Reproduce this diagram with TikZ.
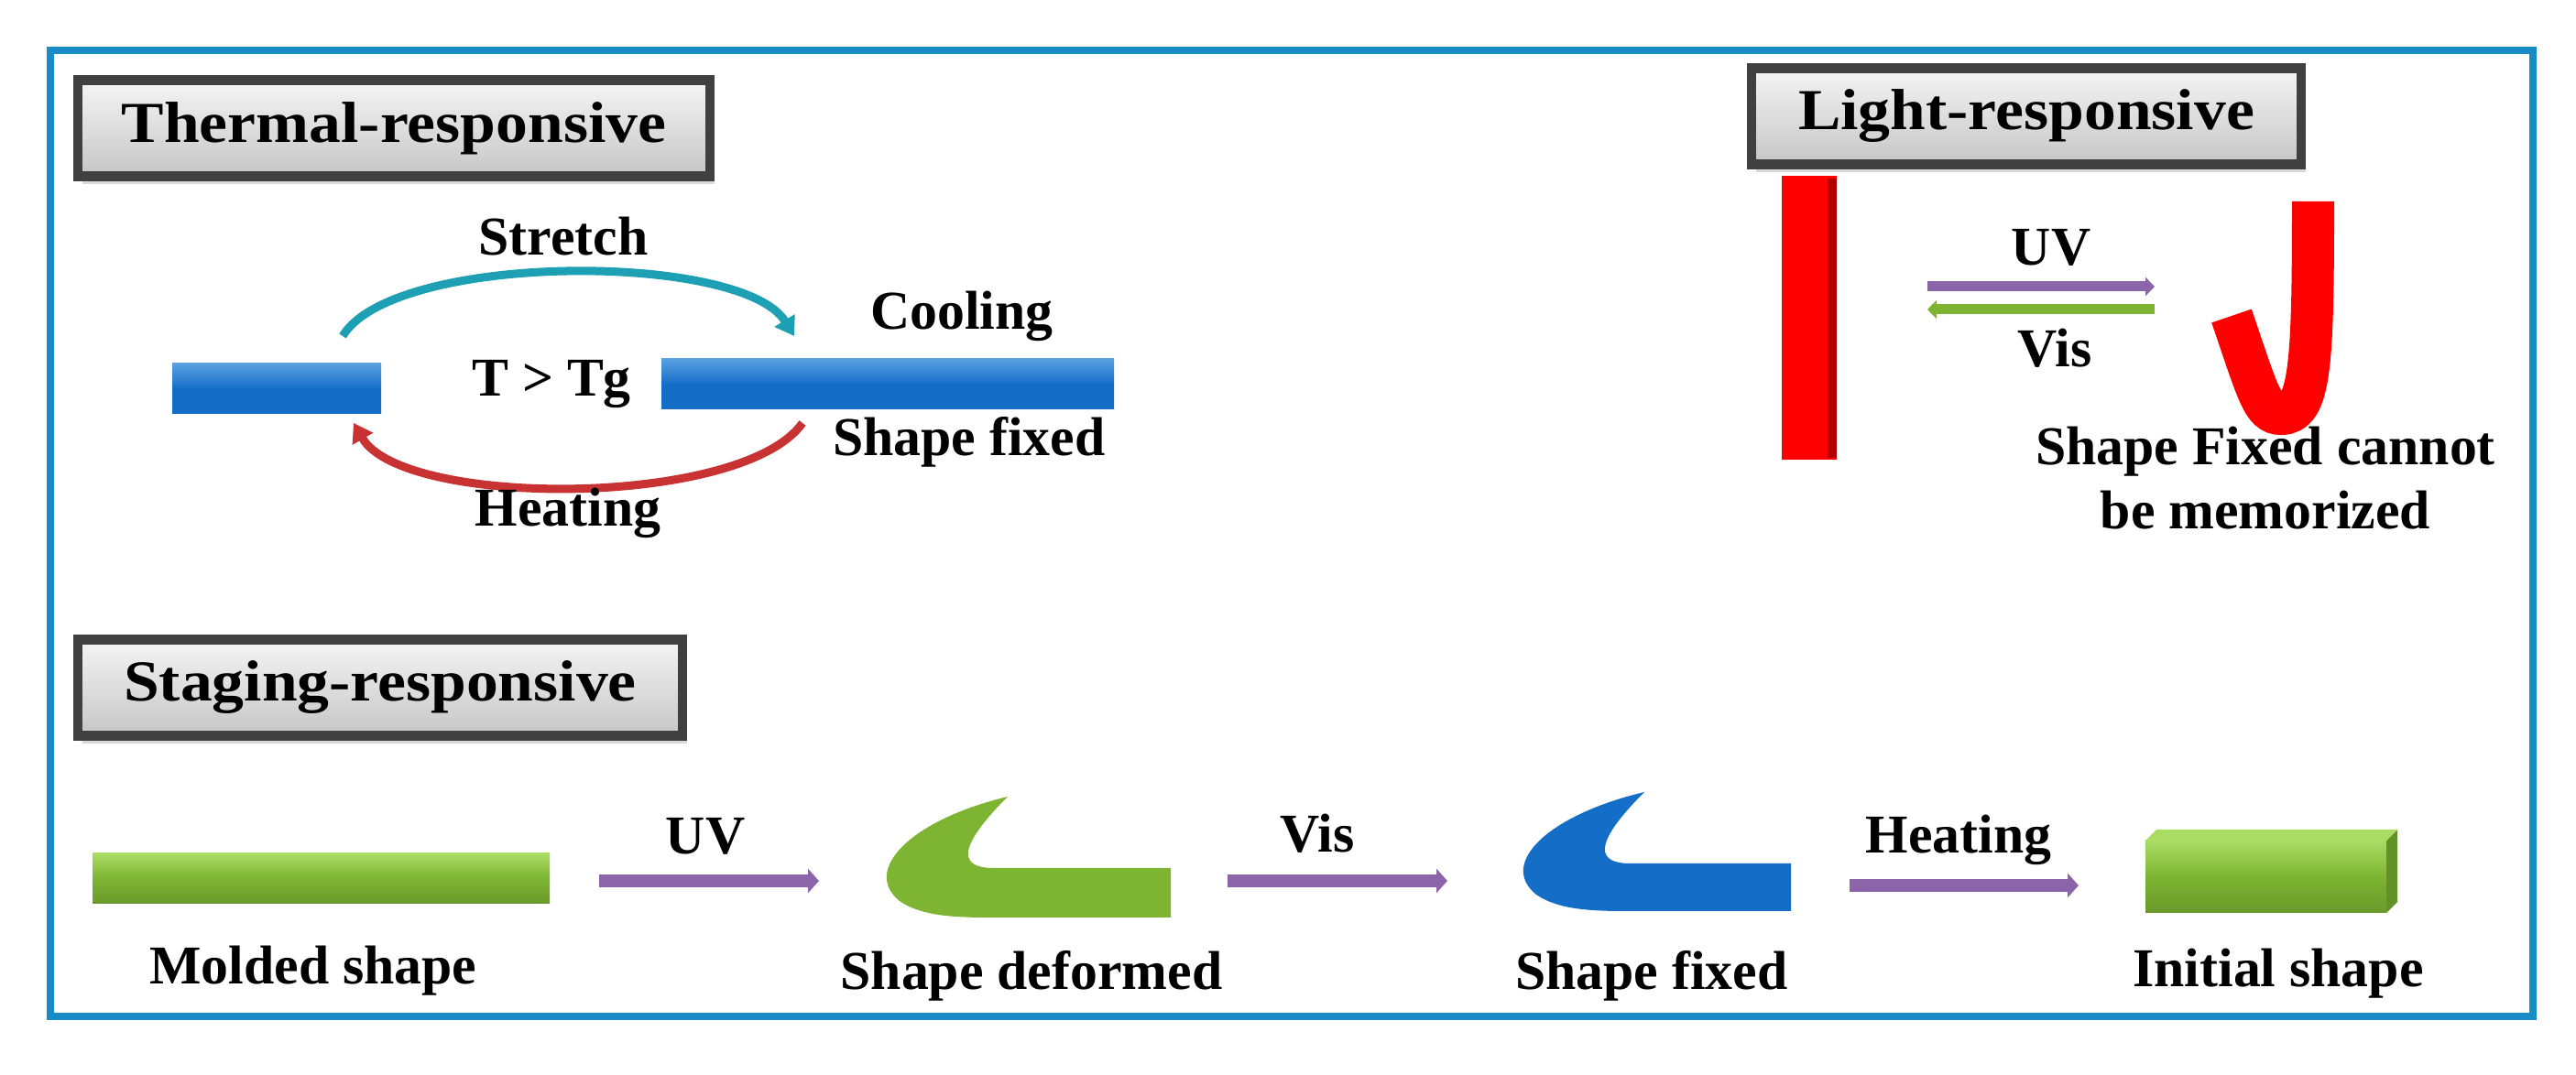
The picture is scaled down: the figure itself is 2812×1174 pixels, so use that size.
\documentclass[tikz,border=0pt]{standalone}
\usepackage{fontspec}
\setmainfont{Liberation Serif}
\newfontfamily\hdrfont{Liberation Serif}[FakeStretch=1.1]
\usetikzlibrary{arrows.meta,shadows}
\definecolor{frameblue}{RGB}{25,140,200}
\definecolor{barblue}{RGB}{20,110,200}
\definecolor{barbluel}{RGB}{90,160,225}
\definecolor{gr}{RGB}{125,180,50}
\definecolor{grl}{RGB}{170,220,100}
\definecolor{purp}{RGB}{140,100,170}
\definecolor{arcc}{RGB}{30,160,180}
\definecolor{arcr}{RGB}{200,50,50}
\tikzset{
 hdr/.style={draw=black!75,line width=3pt,top color=gray!8,bottom color=gray!45,drop shadow={shadow xshift=0.05cm,shadow yshift=-0.08cm,opacity=0.3},minimum height=1.05cm,inner xsep=0.3cm,font=\hdrfont\bfseries\fontsize{18}{22}\selectfont},
 lbl/.style={font=\bfseries\fontsize{17}{20}\selectfont,align=center},
 parr/.style={line width=0.14cm,purp,-{Triangle[length=0.12cm,width=0.26cm]}},
 bluebar/.style={top color=barbluel,bottom color=barblue,middle color=barblue},
 greenbar/.style={top color=grl,bottom color=gr!85!black,middle color=gr},
}
\begin{document}
\begin{tikzpicture}[x=0.01cm,y=-0.01cm]
\useasboundingbox (0,0) rectangle (2812,1174);
\draw[frameblue,line width=0.08cm] (55,55) rectangle (2765,1110);
% headers
\node[hdr,minimum width=6.9cm] (th) at (430,140) {Thermal-responsive};
\node[hdr,minimum width=6.0cm] (lh) at (2212,127) {Light-responsive};
\node[hdr,minimum width=6.6cm] (sh) at (415,751) {Staging-responsive};
% thermal
\shade[bluebar] (188,397) rectangle (416,452);
\shade[bluebar] (722,392) rectangle (1216,447);
\coordinate (a1) at (374,367); \coordinate (a2) at (867,367);
\coordinate (b1) at (876,462); \coordinate (b2) at (386,462);
\draw[arcc,line width=0.09cm,-{Triangle[length=0.2cm,width=0.25cm]}] (a1) .. controls (430,275) and (810,275) .. (a2);
\draw[arcr,line width=0.09cm,-{Triangle[length=0.2cm,width=0.25cm]}] (b1) .. controls (810,555) and (440,555) .. (b2);
\node[lbl] (st) at (615,258) {Stretch};
\node[lbl] (tg) at (602,420) {T > Tg};
\node[lbl] (co) at (1050,345) {Cooling};
\node[lbl] (sf) at (1058,483) {Shape fixed};
\node[lbl] (he) at (620,560) {Heating};
% light
\fill[red] (1945,192) rectangle (2005,502);
\fill[red!70!black] (1995,195) rectangle (2005,500);
\coordinate (u1) at (2104,313); \coordinate (u2) at (2352,313);
\coordinate (v1) at (2352,338); \coordinate (v2) at (2104,338);
\draw[line width=0.11cm,purp,-{Triangle[length=0.1cm,width=0.2cm]}] (u1) -- (u2);
\draw[line width=0.11cm,gr,-{Triangle[length=0.1cm,width=0.2cm]}] (v1) -- (v2);
\node[lbl] (uvl) at (2239,270) {UV};
\node[lbl] (visl) at (2243,380) {Vis};
\draw[red,line width=0.46cm] (2436,345) .. controls (2465,430) and (2470,452) .. (2490,452) .. controls (2522,452) and (2525,400) .. (2525,220);
\node[lbl,align=center] (sfc) at (2473,522) {Shape Fixed cannot\\be memorized};
% staging
\shade[greenbar] (101,932) rectangle (600,987);
\shade[greenbar] (2342,918) rectangle (2605,997);
\fill[gr!80!black] (2605,918) -- (2617,906) -- (2617,985) -- (2605,997) -- cycle;
\fill[grl] (2342,918) -- (2354,906) -- (2617,906) -- (2605,918) -- cycle;
\fill[gr] (1100,870) .. controls (995,895) and (940,950) .. (982,984) .. controls (1005,1000) and (1040,1002) .. (1080,1002) -- (1278,1002) -- (1278,948) -- (1085,948) .. controls (1050,948) and (1040,930) .. (1100,870) -- cycle;
\fill[barblue] (1795,865) .. controls (1690,890) and (1635,943) .. (1677,977) .. controls (1700,993) and (1735,995) .. (1775,995) -- (1955,995) -- (1955,943) -- (1780,943) .. controls (1745,943) and (1735,925) .. (1795,865) -- cycle;
\coordinate (s1) at (654,962); \coordinate (s2) at (894,962);
\coordinate (s3) at (1340,962); \coordinate (s4) at (1580,962);
\coordinate (s5) at (2019,967); \coordinate (s6) at (2269,967);
\draw[parr] (s1) -- (s2);
\draw[parr] (s3) -- (s4);
\draw[parr] (s5) -- (s6);
\node[lbl] (uv2) at (770,913) {UV};
\node[lbl] (vis2) at (1438,910) {Vis};
\node[lbl] (he2) at (2138,917) {Heating};
\node[lbl] (m) at (342,1060) {Molded shape};
\node[lbl] (d) at (1126,1066) {Shape deformed};
\node[lbl] (f) at (1803,1066) {Shape fixed};
\node[lbl] (i) at (2487,1063) {Initial shape};
\end{tikzpicture}
\end{document}
